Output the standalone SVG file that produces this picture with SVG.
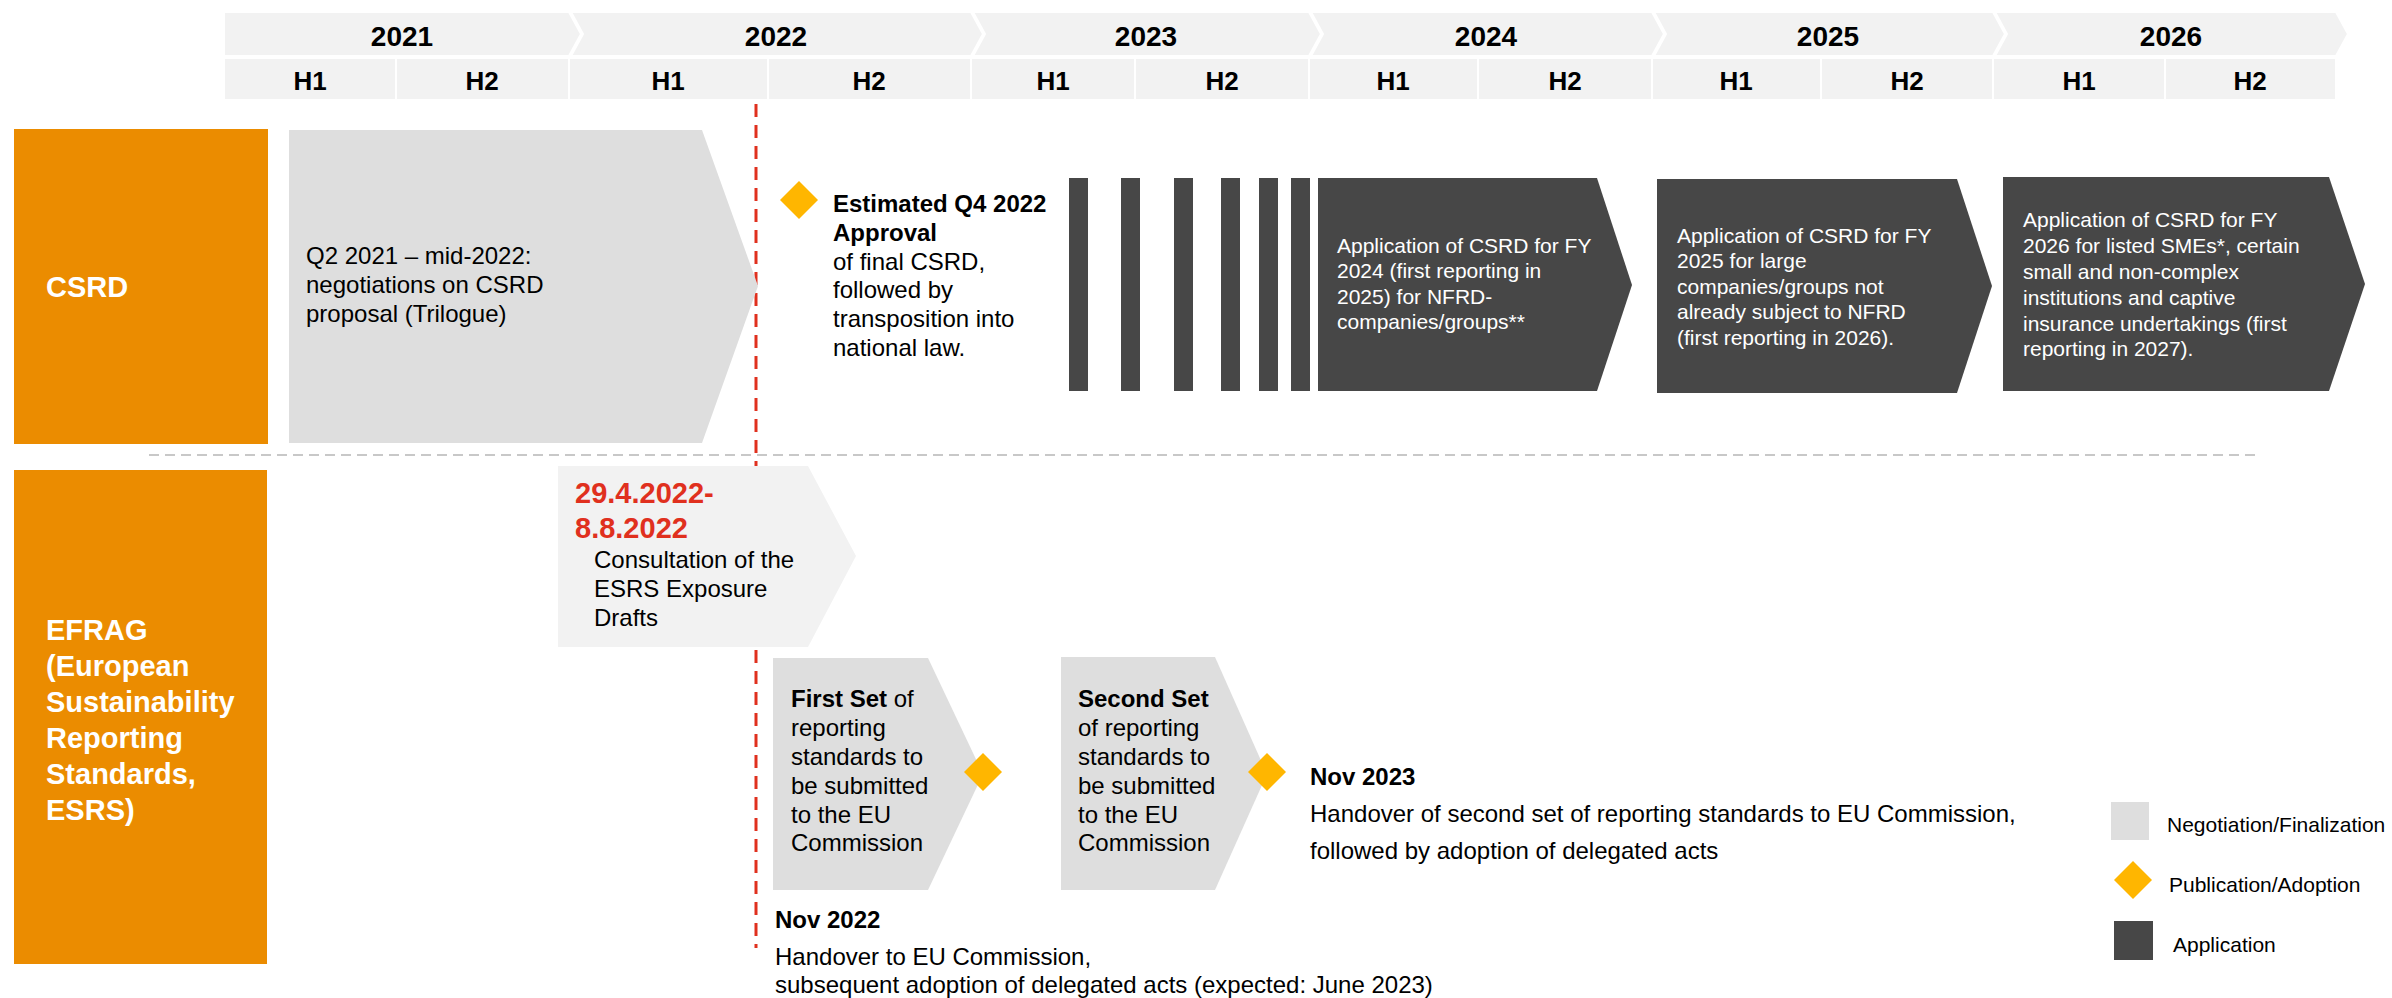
<svg xmlns="http://www.w3.org/2000/svg" width="2392" height="998" viewBox="0 0 2392 998">
  <style>
    text { font-family: "Liberation Sans", Arial, sans-serif; }
    .yr { font-size: 28px; font-weight: bold; fill: #000; text-anchor: middle; }
    .hh { font-size: 26px; font-weight: bold; fill: #000; text-anchor: middle; }
    .lbl { font-size: 29px; font-weight: bold; fill: #fff; }
    .t { font-size: 24px; fill: #000; }
    .b { font-weight: bold; }
    .app { font-size: 21px; fill: #fff; }
    .leg { font-size: 21px; fill: #000; }
    .red { font-size: 29px; font-weight: bold; fill: #E0301E; }
    .hdr { fill: #F2F2F2; stroke: #fff; stroke-width: 2; }
    .neg { fill: #DEDEDE; }
    .light { fill: #F2F2F2; }
    .dark { fill: #474747; }
    .orange { fill: #EB8C00; }
    .dia { fill: #FFB600; }
  </style>
  <defs>
    <polygon id="diamond" points="0,-19 19,0 0,19 -19,0" class="dia"/>
  </defs>

  <!-- Timeline header: years -->
  <g id="header-years">
    <polygon class="hdr" points="224,12 569,12 581,34 569,56 224,56"/>
    <polygon class="hdr" points="571,12 971,12 983,34 971,56 571,56 583,34"/>
    <polygon class="hdr" points="973,12 1309,12 1321,34 1309,56 973,56 985,34"/>
    <polygon class="hdr" points="1311,12 1652,12 1664,34 1652,56 1311,56 1323,34"/>
    <polygon class="hdr" points="1654,12 1993,12 2005,34 1993,56 1654,56 1666,34"/>
    <polygon class="hdr" points="1995,12 2336,12 2348,34 2336,56 1995,56 2007,34"/>
    <text class="yr" x="402" y="46">2021</text>
    <text class="yr" x="776" y="46">2022</text>
    <text class="yr" x="1146" y="46">2023</text>
    <text class="yr" x="1486" y="46">2024</text>
    <text class="yr" x="1828" y="46">2025</text>
    <text class="yr" x="2171" y="46">2026</text>
  </g>

  <!-- Timeline header: half-years -->
  <g id="header-halves">
    <rect class="hdr" x="224" y="58" width="172" height="42"/>
    <rect class="hdr" x="396" y="58" width="173" height="42"/>
    <rect class="hdr" x="569" y="58" width="199" height="42"/>
    <rect class="hdr" x="768" y="58" width="203" height="42"/>
    <rect class="hdr" x="971" y="58" width="164" height="42"/>
    <rect class="hdr" x="1135" y="58" width="174" height="42"/>
    <rect class="hdr" x="1309" y="58" width="169" height="42"/>
    <rect class="hdr" x="1478" y="58" width="174" height="42"/>
    <rect class="hdr" x="1652" y="58" width="169" height="42"/>
    <rect class="hdr" x="1821" y="58" width="172" height="42"/>
    <rect class="hdr" x="1993" y="58" width="172" height="42"/>
    <rect class="hdr" x="2165" y="58" width="171" height="42"/>
    <text class="hh" x="310" y="90">H1</text>
    <text class="hh" x="482" y="90">H2</text>
    <text class="hh" x="668" y="90">H1</text>
    <text class="hh" x="869" y="90">H2</text>
    <text class="hh" x="1053" y="90">H1</text>
    <text class="hh" x="1222" y="90">H2</text>
    <text class="hh" x="1393" y="90">H1</text>
    <text class="hh" x="1565" y="90">H2</text>
    <text class="hh" x="1736" y="90">H1</text>
    <text class="hh" x="1907" y="90">H2</text>
    <text class="hh" x="2079" y="90">H1</text>
    <text class="hh" x="2250" y="90">H2</text>
  </g>

  <!-- Row labels -->
  <g id="csrd-label">
    <rect class="orange" x="14" y="129" width="254" height="315"/>
    <text class="lbl" x="46" y="297">CSRD</text>
  </g>
  <g id="efrag-label">
    <rect class="orange" x="14" y="470" width="253" height="494"/>
    <text class="lbl" x="46" y="640">EFRAG
      <tspan x="46" y="676">(European</tspan>
      <tspan x="46" y="712">Sustainability</tspan>
      <tspan x="46" y="748">Reporting</tspan>
      <tspan x="46" y="784">Standards,</tspan>
      <tspan x="46" y="820">ESRS)</tspan>
    </text>
  </g>

  <!-- Row separator and current-date marker -->
  <g id="connectors">
    <line x1="149" y1="455" x2="2255" y2="455" stroke="#C8C8C8" stroke-width="2" stroke-dasharray="10 6"/>
    <line x1="756" y1="104" x2="756" y2="948" stroke="#E0301E" stroke-width="3" stroke-dasharray="13 8"/>
  </g>

  <!-- CSRD row -->
  <g id="csrd-negotiation">
    <polygon class="neg" points="289,130 702,130 758,286 702,443 289,443"/>
    <text class="t" x="306" y="264">Q2 2021 – mid-2022:
      <tspan x="306" y="293">negotiations on CSRD</tspan>
      <tspan x="306" y="322">proposal (Trilogue)</tspan>
    </text>
  </g>

  <g id="csrd-approval">
    <use href="#diamond" x="799" y="200"/>
    <text class="t" x="833" y="212"><tspan class="b">Estimated Q4 2022</tspan>
      <tspan class="b" x="833" y="241">Approval</tspan>
      <tspan x="833" y="270">of final CSRD,</tspan>
      <tspan x="833" y="298">followed by</tspan>
      <tspan x="833" y="327">transposition into</tspan>
      <tspan x="833" y="356">national law.</tspan>
    </text>
  </g>

  <g id="csrd-ramp">
    <rect class="dark" x="1069" y="178" width="19" height="213"/>
    <rect class="dark" x="1121" y="178" width="19" height="213"/>
    <rect class="dark" x="1174" y="178" width="19" height="213"/>
    <rect class="dark" x="1221" y="178" width="19" height="213"/>
    <rect class="dark" x="1259" y="178" width="19" height="213"/>
    <rect class="dark" x="1291" y="178" width="19" height="213"/>
  </g>

  <g id="csrd-fy2024">
    <polygon class="dark" points="1318,178 1597,178 1632,285 1597,391 1318,391"/>
    <text class="app" x="1337" y="253">Application of CSRD for FY
      <tspan x="1337" y="278">2024 (first reporting in</tspan>
      <tspan x="1337" y="304">2025) for NFRD-</tspan>
      <tspan x="1337" y="329">companies/groups**</tspan>
    </text>
  </g>

  <g id="csrd-fy2025">
    <polygon class="dark" points="1657,179 1957,179 1992,286 1957,393 1657,393"/>
    <text class="app" x="1677" y="243">Application of CSRD for FY
      <tspan x="1677" y="268">2025 for large</tspan>
      <tspan x="1677" y="294">companies/groups not</tspan>
      <tspan x="1677" y="319">already subject to NFRD</tspan>
      <tspan x="1677" y="345">(first reporting in 2026).</tspan>
    </text>
  </g>

  <g id="csrd-fy2026">
    <polygon class="dark" points="2003,177 2329,177 2365,284 2329,391 2003,391"/>
    <text class="app" x="2023" y="227">Application of CSRD for FY
      <tspan x="2023" y="253">2026 for listed SMEs*, certain</tspan>
      <tspan x="2023" y="279">small and non-complex</tspan>
      <tspan x="2023" y="305">institutions and captive</tspan>
      <tspan x="2023" y="331">insurance undertakings (first</tspan>
      <tspan x="2023" y="356">reporting in 2027).</tspan>
    </text>
  </g>

  <!-- EFRAG row -->
  <g id="efrag-consultation">
    <polygon class="light" points="558,466 808,466 856,556 808,647 558,647"/>
    <text class="red" x="575" y="503">29.4.2022-
      <tspan x="575" y="538">8.8.2022</tspan>
    </text>
    <text class="t" x="594" y="568">Consultation of the
      <tspan x="594" y="597">ESRS Exposure</tspan>
      <tspan x="594" y="626">Drafts</tspan>
    </text>
  </g>

  <g id="efrag-first-set">
    <polygon class="neg" points="773,658 928,658 983,774 928,890 773,890"/>
    <use href="#diamond" x="983" y="772"/>
    <text class="t" x="791" y="707"><tspan class="b">First Set</tspan> of
      <tspan x="791" y="736">reporting</tspan>
      <tspan x="791" y="765">standards to</tspan>
      <tspan x="791" y="794">be submitted</tspan>
      <tspan x="791" y="823">to the EU</tspan>
      <tspan x="791" y="851">Commission</tspan>
    </text>
  </g>

  <g id="efrag-second-set">
    <polygon class="neg" points="1061,657 1215,657 1267,774 1215,890 1061,890"/>
    <use href="#diamond" x="1267" y="772"/>
    <text class="t" x="1078" y="707"><tspan class="b">Second Set</tspan>
      <tspan x="1078" y="736">of reporting</tspan>
      <tspan x="1078" y="765">standards to</tspan>
      <tspan x="1078" y="794">be submitted</tspan>
      <tspan x="1078" y="823">to the EU</tspan>
      <tspan x="1078" y="851">Commission</tspan>
    </text>
  </g>

  <g id="nov-2023">
    <text class="t" x="1310" y="785"><tspan class="b">Nov 2023</tspan>
      <tspan x="1310" y="822">Handover of second set of reporting standards to EU Commission,</tspan>
      <tspan x="1310" y="859">followed by adoption of delegated acts</tspan>
    </text>
  </g>

  <g id="nov-2022">
    <text class="t" x="775" y="928"><tspan class="b">Nov 2022</tspan>
      <tspan x="775" y="965">Handover to EU Commission,</tspan>
      <tspan x="775" y="993">subsequent adoption of delegated acts (expected: June 2023)</tspan>
    </text>
  </g>

  <!-- Legend -->
  <g id="legend">
    <rect class="neg" x="2111" y="802" width="38" height="38"/>
    <text class="leg" x="2167" y="832">Negotiation/Finalization</text>
    <use href="#diamond" x="2133" y="880"/>
    <text class="leg" x="2169" y="892">Publication/Adoption</text>
    <rect class="dark" x="2114" y="921" width="39" height="39"/>
    <text class="leg" x="2173" y="952">Application</text>
  </g>
</svg>
